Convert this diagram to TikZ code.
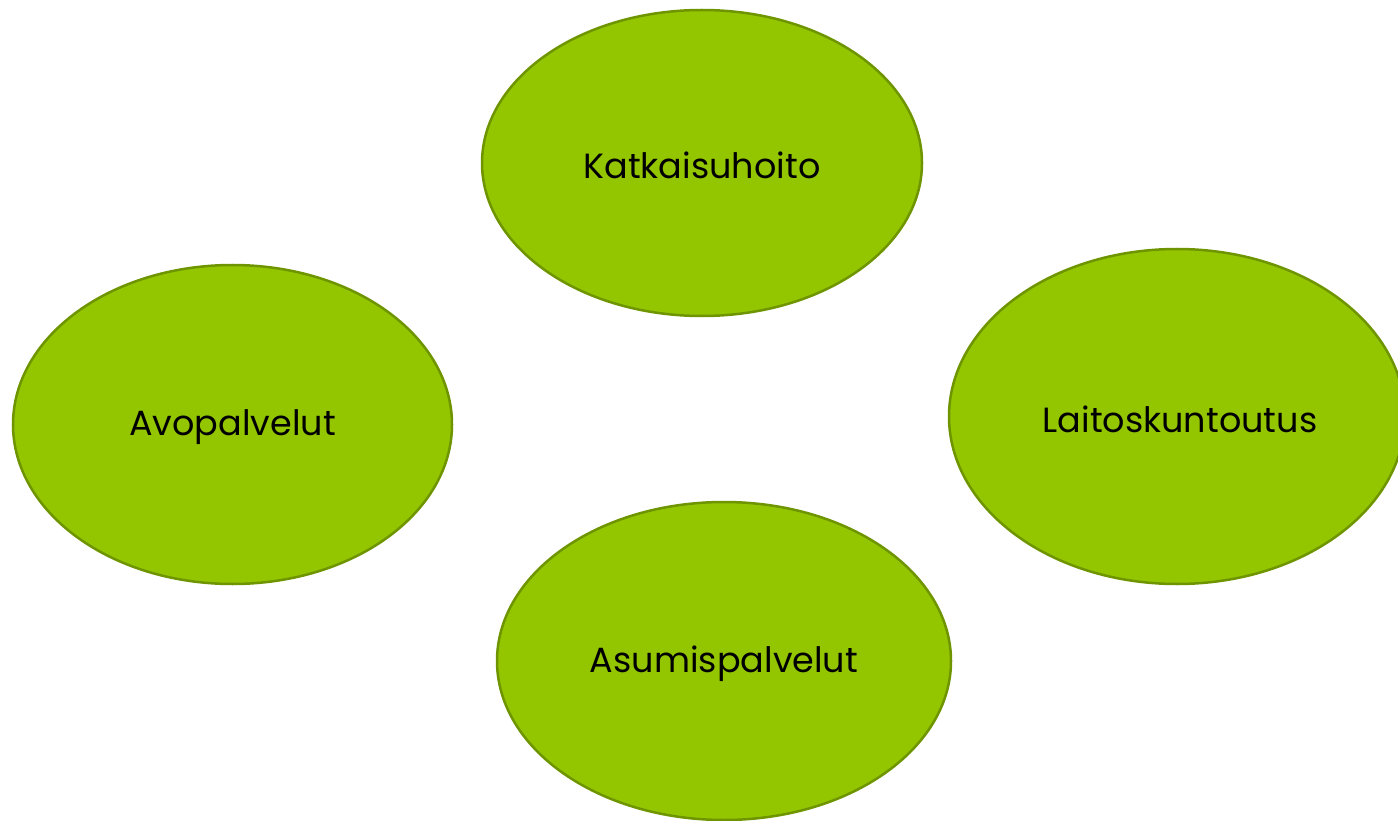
\documentclass[tikz,border=0pt]{standalone}
\usepackage{fontspec}
\setmainfont{Poppins}
\usetikzlibrary{shapes.geometric}
\definecolor{ellfill}{HTML}{94C600}
\definecolor{elldraw}{HTML}{6E9500}
\tikzset{
  oval/.style={ellipse, fill=ellfill, draw=elldraw, line width=2.5pt, inner sep=0pt},
  lbl/.style={font=\fontsize{35}{42}\selectfont, text=black}
}
\begin{document}
\begin{tikzpicture}[x=1pt,y=-1pt]
\useasboundingbox (0,0) rectangle (1398,821);
\begin{scope}
\clip (0,0) rectangle (1398,821);
\node[oval, minimum width=440pt, minimum height=306pt] (kat) at (702,163) {};
\node[oval, minimum width=439pt, minimum height=319pt] (avo) at (232.5,424.5) {};
\node[oval, minimum width=456pt, minimum height=335pt] (lai) at (1177,416.5) {};
\node[oval, minimum width=454pt, minimum height=318pt] (asu) at (724,661) {};
\end{scope}
\node[lbl] at (702,165) {Katkaisuhoito};
\node[lbl] at (232.5,427) {Avopalvelut};
\node[lbl] at (1180,419) {Laitoskuntoutus};
\node[lbl] at (724,664) {Asumispalvelut};
\end{tikzpicture}
\end{document}
